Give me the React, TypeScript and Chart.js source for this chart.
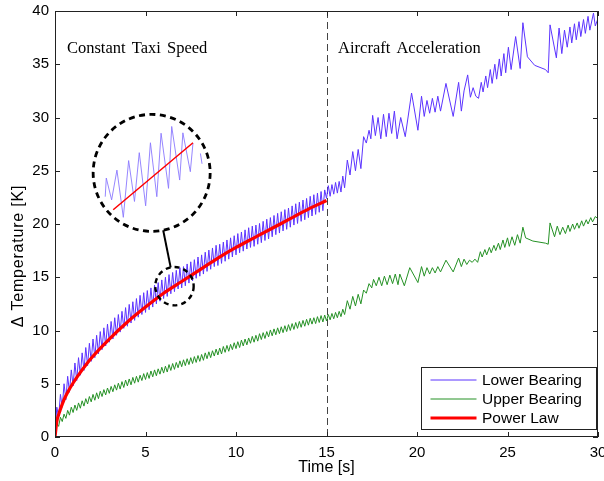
import React, { useEffect, useRef } from 'react';
import { Chart, registerables } from 'chart.js';

Chart.register(...registerables);

// ---------------- data ----------------
const xTicks = [0, 5, 10, 15, 20, 25, 30];
const yTicks = [0, 5, 10, 15, 20, 25, 30, 35, 40];
const xLabel = 'Time [s]';
const yLabel = 'Δ Temperature [K]';
const seriesNames = ['Lower Bearing', 'Upper Bearing', 'Power Law'];

// constant taxi phase: one trough and one peak per 0.2 s cycle
const taxiPeriod = 0.2;
const lowerTaxiTroughs = [
  0.3, 1.9, 2.8, 3.5, 4.2, 4.8, 5.3, 5.8, 6.25, 6.7,
  7.1, 7.45, 7.8, 8.2, 8.55, 8.9, 9.2, 9.55, 9.85, 10.2,
  10.4, 10.7, 10.95, 11.25, 11.5, 11.7, 11.95, 12.2, 12.5, 12.75,
  13.0, 13.2, 13.45, 13.65, 13.9, 14.0, 14.2, 14.45, 14.65, 14.9,
  15.1, 15.3, 15.55, 15.75, 16.0, 16.1, 16.3, 16.5, 16.7, 16.9,
  17.1, 17.3, 17.45, 17.65, 17.8, 17.9, 18.1, 18.25, 18.45, 18.6,
  18.8, 19.0, 19.15, 19.35, 19.5, 19.7, 19.9, 20.05, 20.25, 20.4,
  20.6, 20.75, 20.9, 21.1, 21.25,
];
const lowerTaxiPeaks = [
  2.8, 4.0, 5.0, 5.7, 6.3, 6.95, 7.45, 7.9, 8.4, 8.8,
  9.2, 9.55, 9.9, 10.25, 10.6, 10.85, 11.2, 11.5, 11.8, 12.15,
  12.45, 12.7, 13.0, 13.3, 13.55, 13.75, 14.0, 14.25, 14.5, 14.75,
  15.0, 15.25, 15.45, 15.65, 15.9, 16.0, 16.25, 16.45, 16.65, 16.9,
  17.1, 17.35, 17.55, 17.75, 18.0, 18.1, 18.3, 18.5, 18.7, 18.9,
  19.1, 19.25, 19.45, 19.65, 19.8, 19.9, 20.05, 20.25, 20.45, 20.6,
  20.8, 21.0, 21.15, 21.35, 21.5, 21.7, 21.9, 22.05, 22.25, 22.4,
  22.6, 22.75, 22.9, 23.05, 23.2,
];
const upperTaxiTroughs = [
  0.3, 1.0, 1.45, 1.75, 2.05, 2.3, 2.5, 2.7, 2.9, 3.1,
  3.3, 3.45, 3.6, 3.8, 3.95, 4.1, 4.25, 4.4, 4.5, 4.65,
  4.8, 4.9, 5.05, 5.15, 5.3, 5.4, 5.5, 5.65, 5.75, 5.9,
  6.0, 6.1, 6.25, 6.35, 6.5, 6.6, 6.7, 6.8, 6.9, 7.0,
  7.1, 7.2, 7.35, 7.45, 7.6, 7.7, 7.8, 7.95, 8.05, 8.2,
  8.3, 8.4, 8.55, 8.65, 8.8, 8.9, 9.0, 9.15, 9.25, 9.4,
  9.5, 9.6, 9.7, 9.8, 9.9, 10.0, 10.1, 10.2, 10.3, 10.4,
  10.5, 10.6, 10.65, 10.75, 10.8,
];
const upperTaxiPeaks = [
  1.25, 1.85, 2.15, 2.5, 2.8, 3.0, 3.2, 3.4, 3.6, 3.8,
  4.0, 4.15, 4.3, 4.45, 4.6, 4.75, 4.9, 5.05, 5.2, 5.35,
  5.45, 5.6, 5.7, 5.8, 5.95, 6.05, 6.2, 6.3, 6.4, 6.55,
  6.65, 6.8, 6.9, 7.0, 7.15, 7.25, 7.35, 7.45, 7.55, 7.65,
  7.75, 7.9, 8.0, 8.1, 8.25, 8.35, 8.5, 8.6, 8.7, 8.85,
  8.95, 9.1, 9.2, 9.3, 9.45, 9.55, 9.7, 9.8, 9.9, 10.05,
  10.15, 10.25, 10.35, 10.45, 10.55, 10.65, 10.75, 10.85, 10.95, 11.05,
  11.15, 11.2, 11.3, 11.4, 11.45,
];

// aircraft acceleration phase
const lowerAccelT = [
  15.0, 15.1, 15.2, 15.3, 15.4, 15.5, 15.6, 15.7, 15.8, 15.9,
  16.0, 16.15, 16.3, 16.45, 16.6, 16.75, 16.9, 17.05, 17.2, 17.35,
  17.45, 17.55, 17.7, 17.85, 18.0, 18.15, 18.3, 18.45, 18.6, 18.75,
  18.9, 19.1, 19.35, 19.7, 20.05, 20.25, 20.4, 20.55, 20.7, 20.85,
  21.0, 21.15, 21.3, 21.6, 22.0, 22.3, 22.45, 22.6, 22.8, 22.95,
  23.1, 23.25, 23.4, 23.55, 23.65, 23.8, 23.9, 24.05, 24.15, 24.3,
  24.4, 24.55, 24.65, 24.8, 24.9, 25.05, 25.2, 25.45, 25.7, 25.85,
  26.1, 26.5, 27.1, 27.25, 27.35, 27.7, 27.85, 28.0, 28.15, 28.3,
  28.45, 28.55, 28.7, 28.8, 28.95, 29.05, 29.2, 29.3, 29.45, 29.55,
  29.75, 29.85, 30.0,
];
const lowerAccelV = [
  22.4, 23.6, 22.6, 23.7, 22.8, 23.9, 22.9, 24.0, 23.0, 24.5,
  23.4, 26.0, 24.6, 26.8, 25.0, 27.0, 25.2, 28.2, 27.6, 28.8,
  28.0, 30.2, 28.3, 30.0, 28.0, 30.3, 28.2, 30.4, 28.5, 30.6,
  28.0, 30.0, 28.2, 32.3, 28.8, 32.0, 30.1, 31.6, 30.4, 31.8,
  30.5, 32.0, 30.6, 33.2, 30.1, 33.3, 30.6, 32.5, 34.0, 31.9,
  32.8, 32.0, 31.8, 33.3, 32.4, 33.9, 32.8, 34.5, 33.2, 35.0,
  33.6, 35.5, 33.9, 36.0, 34.2, 36.6, 34.5, 37.6, 34.6, 38.9,
  35.7, 34.9, 34.5, 34.2, 38.7, 35.6, 38.4, 36.0, 38.2, 36.6,
  38.5, 37.0, 38.8, 37.3, 39.0, 37.6, 39.2, 37.9, 39.5, 38.2,
  39.8, 38.6, 39.3,
];
const upperAccelT = [
  15.0, 15.1, 15.2, 15.3, 15.4, 15.5, 15.6, 15.7, 15.8, 15.9,
  16.0, 16.15, 16.3, 16.45, 16.6, 16.75, 16.9, 17.05, 17.2, 17.35,
  17.5, 17.6, 17.75, 17.9, 18.05, 18.2, 18.35, 18.5, 18.65, 18.8,
  18.95, 19.05, 19.3, 19.6, 20.05, 20.25, 20.4, 20.55, 20.7, 20.85,
  21.0, 21.15, 21.3, 21.6, 22.0, 22.3, 22.45, 22.6, 22.75, 22.9,
  23.05, 23.2, 23.35, 23.5, 23.6, 23.75, 23.85, 24.0, 24.1, 24.25,
  24.35, 24.5, 24.6, 24.75, 24.85, 25.0, 25.1, 25.25, 25.4, 25.55,
  25.7, 25.85, 26.0, 26.4, 27.1, 27.25, 27.35, 27.6, 27.75, 27.9,
  28.05, 28.2, 28.35, 28.45, 28.6, 28.7, 28.85, 28.95, 29.1, 29.2,
  29.35, 29.45, 29.6, 29.7, 29.85, 30.0,
];
const upperAccelV = [
  10.9, 11.5, 11.0, 11.6, 11.1, 11.7, 11.2, 11.8, 11.3, 12.0,
  11.5, 12.8, 12.0, 13.2, 12.3, 13.4, 12.5, 13.8, 13.5, 14.4,
  14.0, 14.8, 14.2, 15.0, 14.2, 15.1, 14.3, 15.2, 14.4, 15.3,
  14.3, 15.3, 14.2, 15.9, 14.5, 16.0, 15.1, 15.9, 15.3, 15.9,
  15.4, 16.0, 15.5, 16.6, 15.5, 16.8, 16.0, 16.7, 16.2, 16.6,
  16.4, 16.7, 16.4, 17.4, 16.9, 17.6, 17.1, 17.8, 17.3, 18.0,
  17.5, 18.2, 17.6, 18.5, 17.8, 18.7, 17.9, 18.8, 18.0, 19.0,
  18.2, 19.7, 18.7, 18.4, 18.2, 18.1, 20.1, 18.8, 19.8, 19.0,
  19.7, 19.1, 19.9, 19.3, 20.0, 19.5, 20.1, 19.6, 20.3, 19.8,
  20.4, 20.0, 20.6, 20.2, 20.7, 20.5,
];

// power-law fit (constant taxi phase)
const powerLawT = [0, 0.1, 0.2, 0.3, 0.5, 0.7, 1, 1.5, 2, 3, 4, 5, 6, 7, 8, 9, 10, 11, 12, 13, 14, 15];
const powerLawV = [0, 1.45, 2.1, 2.6, 3.5, 4.2, 5.07, 6.3, 7.4, 9.2, 10.8, 12.2, 13.5, 14.6, 15.7, 16.8, 17.8, 18.7, 19.6, 20.5, 21.4, 22.2];

// annotations
const phaseBoundary = 15;
const phaseLabels = ['Constant Taxi Speed', 'Aircraft Acceleration'];
const phaseLabelT = [0.66, 15.64];
const phaseLabelV = 36.05;
const zoomSpot = [6.6, 14.16];
const insetSpot = [5.34, 24.8];

// magnified inset view
const insetRangeT = [5.5, 7.7];
const insetRangeV = [12.8, 15.8];
const insetLowerT = [5.73, 5.75, 5.85, 5.95, 6.07, 6.17, 6.28, 6.37, 6.49, 6.58, 6.7, 6.78, 6.92, 6.98, 7.13, 7.19, 7.33, 7.38, 7.45, 7.52, 7.55];
const insetLowerV = [13.69, 14.16, 13.61, 14.36, 13.17, 14.6, 13.57, 14.8, 13.46, 15.05, 13.69, 15.29, 13.9, 15.46, 14.11, 15.3, 14.32, 15.04, null, 14.78, 14.52];
const insetFitT = [5.88, 7.38];
const insetFitV = [13.36, 15.05];

// ---------------- styling ----------------
const W = 604;
const H = 481;
const SANS = "'Liberation Sans', Arial, Helvetica, sans-serif";
const SERIF = "'Liberation Serif', 'Times New Roman', serif";
const BLUE = '#5b33ff';
const GREEN = '#259125';
const RED = '#ff0000';
const BIG_R = 58.5;
const SMALL_R = 19.2;

function taxiPoints(troughs: number[], peaks: number[]) {
  const pts: { x: number; y: number }[] = [];
  troughs.forEach((v, i) => {
    pts.push({ x: +(i * taxiPeriod).toFixed(2), y: v });
    pts.push({ x: +(i * taxiPeriod + taxiPeriod / 2).toFixed(2), y: peaks[i] });
  });
  return pts;
}
function zip(t: number[], v: (number | null)[]) {
  return t.map((x, i) => ({ x, y: v[i] as any }));
}

const decorPlugin = {
  id: 'decor',
  beforeDatasetsDraw(chart: any) {
    const { ctx, chartArea: ca, scales } = chart;
    const px = Math.round(scales.x.getPixelForValue(phaseBoundary)) + 0.5;
    ctx.save();
    ctx.strokeStyle = '#444';
    ctx.lineWidth = 1;
    ctx.setLineDash([7, 4]);
    ctx.beginPath();
    ctx.moveTo(px, ca.top);
    ctx.lineTo(px, ca.bottom);
    ctx.stroke();
    ctx.restore();
  },
  afterDatasetsDraw(chart: any) {
    const { ctx, chartArea: ca, scales } = chart;
    const xs = scales.x;
    const ys = scales.y;
    ctx.save();
    // frame and inward ticks
    ctx.strokeStyle = '#222';
    ctx.lineWidth = 1;
    ctx.setLineDash([]);
    ctx.strokeRect(ca.left + 0.5, ca.top + 0.5, ca.right - ca.left - 1, ca.bottom - ca.top - 1);
    ctx.beginPath();
    xTicks.forEach((v) => {
      const p = Math.round(xs.getPixelForValue(v)) + 0.5;
      ctx.moveTo(p, ca.bottom);
      ctx.lineTo(p, ca.bottom - 5);
      ctx.moveTo(p, ca.top);
      ctx.lineTo(p, ca.top + 5);
    });
    yTicks.forEach((v) => {
      const p = Math.round(ys.getPixelForValue(v)) + 0.5;
      ctx.moveTo(ca.left, p);
      ctx.lineTo(ca.left + 5, p);
      ctx.moveTo(ca.right, p);
      ctx.lineTo(ca.right - 5, p);
    });
    ctx.stroke();

    // zoom circles + connector
    const bx = xs.getPixelForValue(insetSpot[0]);
    const by = ys.getPixelForValue(insetSpot[1]);
    const sx = xs.getPixelForValue(zoomSpot[0]);
    const sy = ys.getPixelForValue(zoomSpot[1]);
    const dx = sx - bx;
    const dy = sy - by;
    const d = Math.hypot(dx, dy);
    const ux = dx / d;
    const uy = dy / d;
    ctx.strokeStyle = '#000';
    ctx.lineWidth = 2;
    ctx.beginPath();
    ctx.moveTo(bx + ux * BIG_R, by + uy * BIG_R);
    ctx.lineTo(sx - ux * SMALL_R, sy - uy * SMALL_R);
    ctx.stroke();
    ctx.lineWidth = 2.8;
    ctx.setLineDash([6, 4.5]);
    ctx.beginPath();
    ctx.arc(bx, by, BIG_R, 0, Math.PI * 2);
    ctx.stroke();
    ctx.lineWidth = 2.4;
    ctx.setLineDash([5, 4]);
    ctx.beginPath();
    ctx.arc(sx, sy, SMALL_R, 0, Math.PI * 2);
    ctx.stroke();
    ctx.setLineDash([]);

    // phase labels
    ctx.fillStyle = '#000';
    ctx.font = `16.5px ${SERIF}`;
    ctx.textAlign = 'left';
    ctx.textBaseline = 'alphabetic';
    (ctx as any).wordSpacing = '2px';
    phaseLabels.forEach((s, i) => {
      ctx.fillText(s, xs.getPixelForValue(phaseLabelT[i]), ys.getPixelForValue(phaseLabelV));
    });
    (ctx as any).wordSpacing = '0px';

    // axis titles
    ctx.font = `16px ${SANS}`;
    ctx.textAlign = 'center';
    ctx.textBaseline = 'middle';
    ctx.fillText(xLabel, (ca.left + ca.right) / 2, 468);
    ctx.save();
    ctx.translate(19, 256);
    ctx.rotate(-Math.PI / 2);
    (ctx as any).letterSpacing = '0.8px';
    ctx.fillText(yLabel, 0, 0);
    (ctx as any).letterSpacing = '0px';
    ctx.restore();

    // legend
    const lw = 175;
    const lh = 62;
    const lx = Math.round(ca.right - 2 - lw) + 0.5;
    const ly = Math.round(ca.bottom - 8 - lh) + 0.5;
    ctx.fillStyle = '#fff';
    ctx.fillRect(lx, ly, lw, lh);
    ctx.strokeStyle = '#222';
    ctx.lineWidth = 1;
    ctx.strokeRect(lx, ly, lw, lh);
    ctx.font = `15.5px ${SANS}`;
    ctx.textAlign = 'left';
    ctx.textBaseline = 'middle';
    chart.data.datasets
      .filter((ds: any) => seriesNames.includes(ds.label))
      .forEach((ds: any, i: number) => {
        const yy = ly + 12.5 + i * 19;
        ctx.strokeStyle = ds.borderColor;
        ctx.lineWidth = ds.borderWidth;
        ctx.beginPath();
        ctx.moveTo(lx + 9, yy);
        ctx.lineTo(lx + 55, yy);
        ctx.stroke();
        ctx.fillStyle = '#000';
        ctx.fillText(ds.label, lx + 60.5, yy + 0.5);
      });
    ctx.restore();
  },
};

export default function App() {
  const mainRef = useRef<HTMLCanvasElement>(null);
  const insetRef = useRef<HTMLCanvasElement>(null);
  const insetWrapRef = useRef<HTMLDivElement>(null);

  useEffect(() => {
    document.body.style.margin = '0';
    const lower = taxiPoints(lowerTaxiTroughs, lowerTaxiPeaks).concat(zip(lowerAccelT, lowerAccelV));
    const upper = taxiPoints(upperTaxiTroughs, upperTaxiPeaks).concat(zip(upperAccelT, upperAccelV));
    const fit = zip(powerLawT, powerLawV);

    const main = new Chart(mainRef.current as HTMLCanvasElement, {
      type: 'line',
      data: {
        datasets: [
          { label: seriesNames[0], data: lower, borderColor: BLUE, borderWidth: 1, pointRadius: 0, tension: 0, order: 1 },
          { label: seriesNames[1], data: upper, borderColor: GREEN, borderWidth: 1, pointRadius: 0, tension: 0, order: 2 },
          { label: seriesNames[2], data: fit, borderColor: RED, borderWidth: 3.2, pointRadius: 0, tension: 0.4, cubicInterpolationMode: 'monotone', order: 0 },
        ],
      } as any,
      options: {
        responsive: false,
        animation: false,
        events: [],
        layout: { padding: { top: 11, right: 6, left: 0, bottom: 0 } },
        plugins: { legend: { display: false }, tooltip: { enabled: false } },
        scales: {
          x: {
            type: 'linear',
            min: 0,
            max: 30,
            afterBuildTicks: (s: any) => { s.ticks = xTicks.map((v) => ({ value: v })); },
            afterFit: (s: any) => { s.height = 44; s.paddingLeft = 0; s.paddingRight = 0; },
            grid: { display: false, drawTicks: false },
            border: { display: false },
            ticks: { color: '#000', font: { family: SANS, size: 15 }, padding: 7, maxRotation: 0 },
          },
          y: {
            type: 'linear',
            min: 0,
            max: 40,
            afterBuildTicks: (s: any) => { s.ticks = yTicks.map((v) => ({ value: v })); },
            afterFit: (s: any) => { s.width = 55; s.paddingTop = 0; s.paddingBottom = 0; },
            grid: { display: false, drawTicks: false },
            border: { display: false },
            ticks: { color: '#000', font: { family: SANS, size: 15 }, padding: 6 },
          },
        },
      } as any,
      plugins: [decorPlugin],
    });

    // place the magnified inset inside the big dashed circle
    const bx = main.scales.x.getPixelForValue(insetSpot[0]);
    const by = main.scales.y.getPixelForValue(insetSpot[1]);
    const wrap = insetWrapRef.current as HTMLDivElement;
    wrap.style.left = `${bx - 58.5}px`;
    wrap.style.top = `${by - 59.5}px`;

    const inset = new Chart(insetRef.current as HTMLCanvasElement, {
      type: 'line',
      data: {
        datasets: [
          { label: 'fit', data: zip(insetFitT, insetFitV), borderColor: RED, borderWidth: 1.5, pointRadius: 0, order: 0 },
          { label: 'lower', data: zip(insetLowerT, insetLowerV), borderColor: '#8a78ff', borderWidth: 0.9, pointRadius: 0, spanGaps: false, order: 1 },
        ],
      } as any,
      options: {
        responsive: false,
        animation: false,
        events: [],
        layout: { padding: 0 },
        plugins: { legend: { display: false }, tooltip: { enabled: false } },
        scales: {
          x: { type: 'linear', min: insetRangeT[0], max: insetRangeT[1], display: false },
          y: { type: 'linear', min: insetRangeV[0], max: insetRangeV[1], display: false },
        },
      } as any,
    });

    return () => {
      main.destroy();
      inset.destroy();
    };
  }, []);

  return (
    <div style={{ position: 'relative', width: W, height: H, background: '#fff' }}>
      <canvas ref={mainRef} width={W} height={H} style={{ position: 'absolute', left: 0, top: 0 }} />
      <div
        ref={insetWrapRef}
        style={{ position: 'absolute', left: 93, top: 113, width: 117, height: 119, borderRadius: '50%', overflow: 'hidden' }}
      >
        <canvas ref={insetRef} width={117} height={119} style={{ display: 'block' }} />
      </div>
    </div>
  );
}
